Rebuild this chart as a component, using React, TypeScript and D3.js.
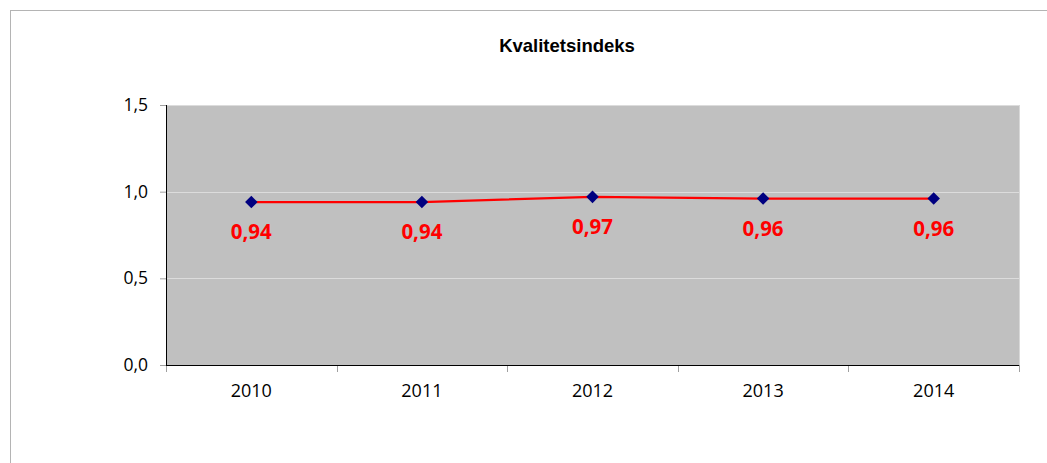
import React, { useEffect, useRef } from "react";
import * as d3 from "d3";

const title = "Kvalitetsindeks";
const years = ["2010", "2011", "2012", "2013", "2014"];
const values = [0.94, 0.94, 0.97, 0.96, 0.96];
const yTicks = [0, 0.5, 1.0, 1.5];

const W = 1047;
const H = 463;

const fmt = (v: number) => d3.format(".1f")(v).replace(".", ",");
const fmt2 = (v: number) => d3.format(".2f")(v).replace(".", ",");

export default function App() {
  const ref = useRef<SVGSVGElement>(null);

  useEffect(() => {
    const svg = d3.select(ref.current);
    svg.selectAll("*").remove();

    const margin = { top: 105, right: 28, bottom: 98, left: 166 };
    const width = W - margin.left - margin.right;
    const height = H - margin.top - margin.bottom;

    // chart border
    svg.append("rect")
      .attr("x", 10.5).attr("y", 10.5)
      .attr("width", W).attr("height", H)
      .attr("fill", "white")
      .attr("stroke", "#b4b4b4")
      .attr("stroke-width", 1);

    svg.append("text")
      .attr("x", 567).attr("y", 52)
      .attr("text-anchor", "middle")
      .attr("font-family", "'Liberation Sans', Arial, sans-serif")
      .attr("font-weight", "bold")
      .attr("font-size", 18.5)
      .attr("fill", "#000")
      .text(title);

    const g = svg.append("g").attr("transform", `translate(${margin.left},${margin.top})`);

    const x = d3.scaleBand().domain(years).range([0, width]);
    const y = d3.scaleLinear().domain([0, 1.5]).range([height, 0]);

    g.append("rect")
      .attr("width", width).attr("height", height)
      .attr("fill", "#c0c0c0");

    // gridlines
    g.selectAll(".grid")
      .data(yTicks.filter(t => t > 0))
      .enter().append("line")
      .attr("x1", 0).attr("x2", width)
      .attr("y1", d => Math.round(y(d)) + 0.5)
      .attr("y2", d => Math.round(y(d)) + 0.5)
      .attr("stroke", "#dcdcdc");

    // right border of plot
    g.append("line")
      .attr("x1", width + 0.5).attr("x2", width + 0.5)
      .attr("y1", 0).attr("y2", height)
      .attr("stroke", "#d8d8d8");

    // y axis
    const yAxis = g.append("g")
      .call(d3.axisLeft(y).tickValues(yTicks).tickFormat(d => fmt(d as number)).tickSize(6).tickPadding(12));
    yAxis.select(".domain").attr("stroke", "#000").attr("d", `M0.5,0V${height}`);
    yAxis.selectAll(".tick line").attr("stroke", "#a0a0a0");
    yAxis.selectAll("text")
      .attr("font-family", "'Open Sans', sans-serif")
      .attr("font-size", 17.5)
      .attr("fill", "#000");

    // x axis
    const bounds = d3.range(years.length + 1).map(i => i * x.bandwidth());
    const xg = g.append("g").attr("transform", `translate(0,${height})`);
    xg.selectAll(".xt")
      .data(bounds)
      .enter().append("line")
      .attr("x1", d => Math.round(d) + 0.5).attr("x2", d => Math.round(d) + 0.5)
      .attr("y1", 0).attr("y2", 7)
      .attr("stroke", "#a0a0a0");
    xg.append("line")
      .attr("x1", 0).attr("x2", width)
      .attr("y1", 0.5).attr("y2", 0.5)
      .attr("stroke", "#000");
    xg.selectAll(".xl")
      .data(years)
      .enter().append("text")
      .attr("x", d => (x(d) as number) + x.bandwidth() / 2)
      .attr("y", 32)
      .attr("text-anchor", "middle")
      .attr("font-family", "'Open Sans', sans-serif")
      .attr("font-size", 18)
      .attr("fill", "#000")
      .text(d => d);

    const cx = (i: number) => (x(years[i]) as number) + x.bandwidth() / 2;

    const line = d3.line<number>()
      .x((d, i) => cx(i))
      .y(d => y(d));

    g.append("path")
      .datum(values)
      .attr("d", line)
      .attr("fill", "none")
      .attr("stroke", "#ff0000")
      .attr("stroke-width", 2.2);

    const sym = d3.symbol().type(d3.symbolDiamond2).size(100);
    g.selectAll(".pt")
      .data(values)
      .enter().append("path")
      .attr("d", sym)
      .attr("transform", (d, i) => `translate(${cx(i)},${y(d)})`)
      .attr("fill", "#000080");

    g.selectAll(".lbl")
      .data(values)
      .enter().append("text")
      .attr("x", (d, i) => cx(i))
      .attr("y", d => y(d) + 37)
      .attr("text-anchor", "middle")
      .attr("font-family", "'Open Sans', sans-serif")
      .attr("font-weight", "bold")
      .attr("font-size", 20.5)
      .attr("fill", "#ff0000")
      .text(d => fmt2(d));
  }, []);

  return <svg ref={ref} width={W} height={H} style={{ position: "absolute", left: 0, top: 0 }} />;
}
